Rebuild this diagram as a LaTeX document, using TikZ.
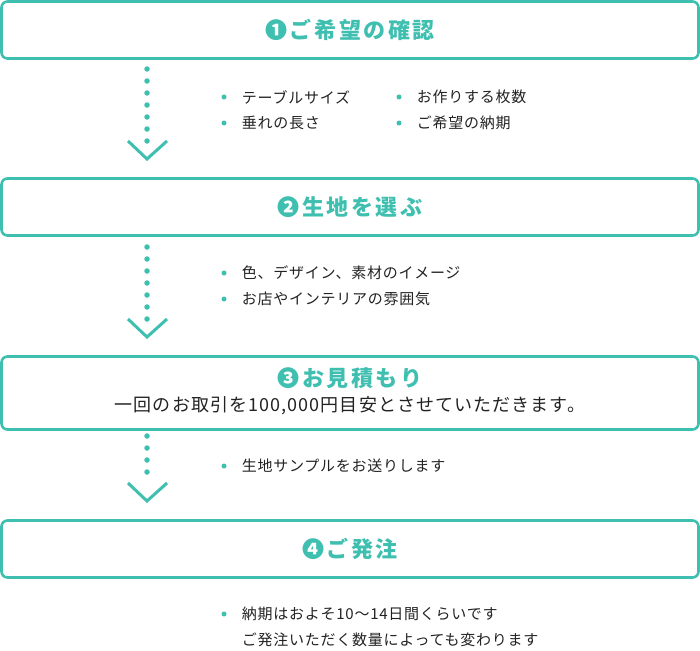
\documentclass[tikz,border=0pt]{standalone}
\usepackage{fontspec}
\setmainfont{Noto Sans CJK JP}
\usetikzlibrary{positioning}

\definecolor{flowteal}{HTML}{3FBFB0}
\definecolor{textgray}{HTML}{222222}

\tikzset{
  stepbox/.style={draw=flowteal, line width=2.6pt, rounded corners=6pt, minimum width=697pt, inner sep=0pt},
  steptitle/.style={text=flowteal, font=\fontsize{22}{26}\selectfont\bfseries\addfontfeatures{LetterSpace=12}},
  stepnote/.style={text=textgray, font=\fontsize{18}{22}\selectfont\addfontfeatures{LetterSpace=6}},
  item/.style={anchor=west, inner sep=0pt, text=textgray, font=\fontsize{15}{18}\selectfont\addfontfeatures{LetterSpace=5}},
  bullet/.style={circle, fill=flowteal, inner sep=0pt, minimum size=5pt},
  dots/.style={flowteal, line width=5.5pt, line cap=round, dash pattern=on 0pt off 12pt},
  chevron/.style={flowteal, line width=3pt},
}

\begin{document}
\begin{tikzpicture}[x=1pt, y=-1pt]
    \useasboundingbox (0,0) rectangle (700,650);

    % steps
    \node[stepbox, steptitle, minimum height=57pt] (step1) at (350,30) {❶ご希望の確認};
    \node[stepbox, steptitle, minimum height=57pt] (step2) at (350,207) {❷生地を選ぶ};
    \node[stepbox, minimum height=73pt] (step3) at (350,393) {};
    \node[steptitle] (title3) at (350,378) {❸お見積もり};
    \node[stepnote] (note3) at (350,406) {一回のお取引を100,000円目安とさせていただきます。};
    \node[stepbox, steptitle, minimum height=57pt] (step4) at (350,549) {❹ご発注};

    % arrows between steps
    \coordinate (d1) at (147,69);  \coordinate (v1) at (147,159);
    \coordinate (d2) at (147,247); \coordinate (v2) at (147,337);
    \coordinate (d3) at (147,436); \coordinate (v3) at (147,501);
    \foreach \i in {1,2,3} {
        \draw[dots] (d\i) -- ([shift={(0,-18)}]v\i);
        \draw[chevron] ([shift={(-19,-18)}]v\i) -- (v\i) -- ([shift={(20,-18)}]v\i);
    }

    % notes
    \node[bullet] (b11) at (224,97) {};
    \node[item, right=15pt of b11] (t11) {テーブルサイズ};
    \node[bullet] (b12) at (224,123) {};
    \node[item, right=15pt of b12] (t12) {垂れの長さ};
    \node[bullet] (b13) at (399,97) {};
    \node[item, right=15pt of b13] (t13) {お作りする枚数};
    \node[bullet] (b14) at (399,123) {};
    \node[item, right=15pt of b14] (t14) {ご希望の納期};

    \node[bullet] (b21) at (224,273) {};
    \node[item, right=15pt of b21] (t21) {色、デザイン、素材のイメージ};
    \node[bullet] (b22) at (224,299) {};
    \node[item, right=15pt of b22] (t22) {お店やインテリアの雰囲気};

    \node[bullet] (b31) at (224,466) {};
    \node[item, right=15pt of b31] (t31) {生地サンプルをお送りします};

    \node[bullet] (b41) at (224,614) {};
    \node[item, right=15pt of b41] (t41) {納期はおよそ10〜14日間くらいです};
    \node[item] (t42) at (t41.west |- 0,640) {ご発注いただく数量によっても変わります};
\end{tikzpicture}
\end{document}
